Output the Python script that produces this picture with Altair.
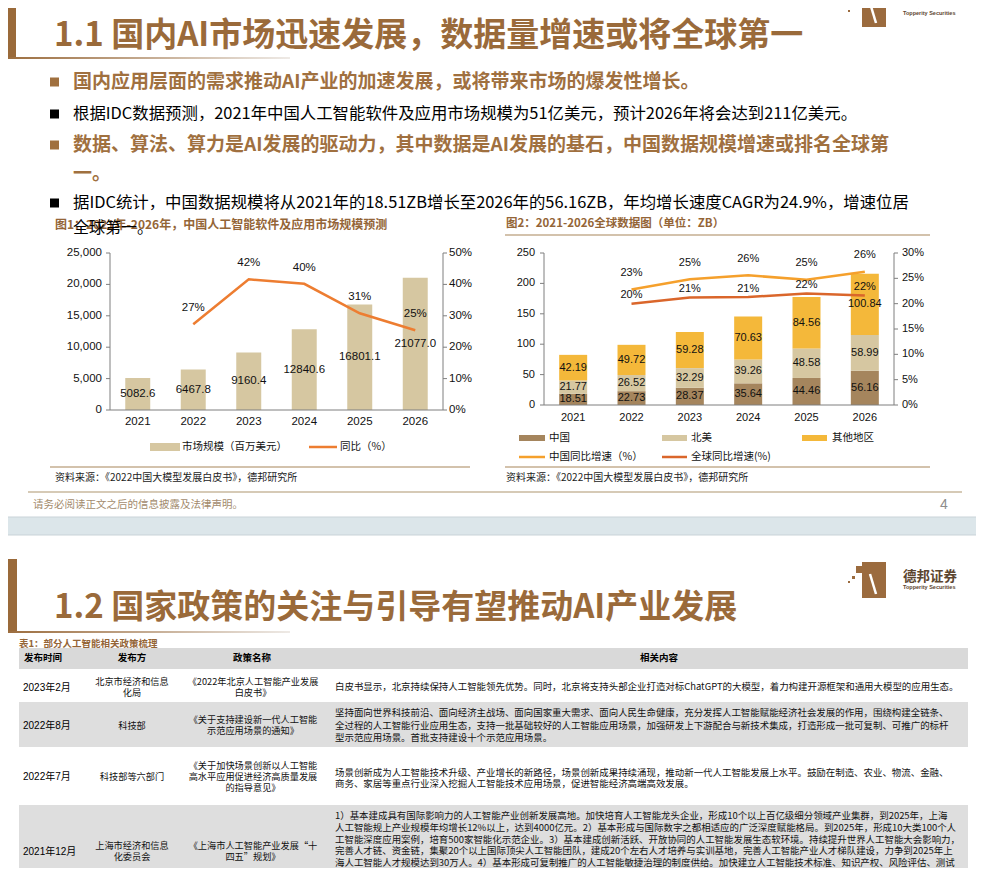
import altair as alt
import pandas as pd

# ---------------- data ----------------
years = ["2021", "2022", "2023", "2024", "2025", "2026"]
market = [5082.6, 6467.8, 9160.4, 12840.6, 16801.1, 21077.0]
yoy_years = ["2022", "2023", "2024", "2025", "2026"]
market_yoy = [27.3, 41.6, 40.2, 30.8, 25.4]

regions = ["中国", "北美", "其他地区"]
china = [18.51, 22.73, 28.37, 35.64, 44.46, 56.16]
north_america = [21.77, 26.52, 32.29, 39.26, 48.58, 58.99]
others = [42.19, 49.72, 59.28, 70.63, 84.56, 100.84]
china_yoy = [22.8, 24.8, 25.6, 24.7, 26.3]
global_yoy = [20.0, 21.2, 21.3, 22.0, 21.6]

left1_ticks = [0, 5000, 10000, 15000, 20000, 25000]
right1_ticks = [0, 10, 20, 30, 40, 50]
left2_ticks = [0, 50, 100, 150, 200, 250]
right2_ticks = [0, 5, 10, 15, 20, 25, 30]

title1 = "1.1 国内AI市场迅速发展，数据量增速或将全球第一"
bullets1 = [
    "国内应用层面的需求推动AI产业的加速发展，或将带来市场的爆发性增长。",
    "根据IDC数据预测，2021年中国人工智能软件及应用市场规模为51亿美元，预计2026年将会达到211亿美元。",
    "数据、算法、算力是AI发展的驱动力，其中数据是AI发展的基石，中国数据规模增速或排名全球第",
    "据IDC统计，中国数据规模将从2021年的18.51ZB增长至2026年的56.16ZB，年均增长速度CAGR为24.9%，增速位居",
]
wraps1 = ["一。", "全球第一。"]
fig1_title = "图1：2021年-2026年，中国人工智能软件及应用市场规模预测"
fig2_title = "图2：2021-2026全球数据图（单位：ZB）"
source_text = "资料来源：《2022中国大模型发展白皮书》，德邦研究所"
legend1 = ["市场规模（百万美元）", "同比（%）"]
legend2 = ["中国", "北美", "其他地区", "中国同比增速（%）", "全球同比增速(%)"]
footer_text = "请务必阅读正文之后的信息披露及法律声明。"
page_no = "4"

title2 = "1.2 国家政策的关注与引导有望推动AI产业发展"
table_title = "表1：部分人工智能相关政策梳理"
table_header = ["发布时间", "发布方", "政策名称", "相关内容"]
dates = ["2023年2月", "2022年8月", "2022年7月", "2021年12月"]
issuers = [["北京市经济和信息", "化局"], ["科技部"], ["科技部等六部门"], ["上海市经济和信息", "化委员会"]]
policies = [
    ["《2022年北京人工智能产业发展", "白皮书》"],
    ["《关于支持建设新一代人工智能", "示范应用场景的通知》"],
    ["《关于加快场景创新以人工智能", "高水平应用促进经济高质量发展", "的指导意见》"],
    ["《上海市人工智能产业发展“十", "四五”规划》"],
]
contents = [
    ["白皮书显示，北京持续保持人工智能领先优势。同时，北京将支持头部企业打造对标ChatGPT的大模型，着力构建开源框架和通用大模型的应用生态。"],
    ["坚持面向世界科技前沿、面向经济主战场、面向国家重大需求、面向人民生命健康，充分发挥人工智能赋能经济社会发展的作用，围绕构建全链条、",
     "全过程的人工智能行业应用生态，支持一批基础较好的人工智能应用场景，加强研发上下游配合与新技术集成，打造形成一批可复制、可推广的标杆",
     "型示范应用场景。首批支持建设十个示范应用场景。"],
    ["场景创新成为人工智能技术升级、产业增长的新路径，场景创新成果持续涌现，推动新一代人工智能发展上水平。鼓励在制造、农业、物流、金融、",
     "商务、家居等重点行业深入挖掘人工智能技术应用场景，促进智能经济高端高效发展。"],
    ["1）基本建成具有国际影响力的人工智能产业创新发展高地。加快培育人工智能龙头企业，形成10个以上百亿级细分领域产业集群，到2025年，上海",
     "人工智能规上产业规模年均增长12%以上，达到4000亿元。2）基本形成与国际数字之都相适应的广泛深度赋能格局。到2025年，形成10大类100个人",
     "工智能深度应用案例，培育500家智能化示范企业。3）基本建成创新活跃、开放协同的人工智能发展生态软环境。持续提升世界人工智能大会影响力，",
     "完善人才链、资金链，集聚20个以上国际顶尖人工智能团队，建成20个左右人才培养与实训基地，完善人工智能产业人才梯队建设，力争到2025年上",
     "海人工智能人才规模达到30万人。4）基本形成可复制推广的人工智能敏捷治理的制度供给。加快建立人工智能技术标准、知识产权、风险评估、测试",
     "认证、安全监管体系，参与10个国家或国际标准编制，年均申请发明专利1000件，探索建立人工智能赋能产业发展和城市管理指标体系，打造上海人"],
]

# ---------------- style ----------------
CJK = "Noto Sans CJK SC"
NUM = "Liberation Sans, Noto Sans CJK SC"
BROWN = "#9A6A3A"
TITLE_BROWN = "#946537"
TAN = "#D6C7A1"
CN_BROWN = "#A5855D"
GOLD = "#F4B83A"
ORANGE = "#ED7D31"
CN_LINE = "#F5A02C"
GL_LINE = "#DA662B"
AX = "#7F7F7F"

ONE = pd.DataFrame({"k": [0]})


def X(v):
    return v - 8


def Y(v):
    return v - 8


def T(s, x, y, size, color="#000000", weight="normal", align="left", font=CJK):
    return alt.Chart(ONE).mark_text(
        align=align, baseline="middle", fontSize=size, fontWeight=weight, color=color, font=font
    ).encode(x=alt.value(X(x)), y=alt.value(Y(y)), text=alt.value(s))


def R(x1, y1, x2, y2, color):
    return alt.Chart(ONE).mark_rect(color=color).encode(
        x=alt.value(X(x1)), x2=alt.value(X(x2)), y=alt.value(Y(y1)), y2=alt.value(Y(y2))
    )


def L(x1, y1, x2, y2, color, w=1.0):
    return alt.Chart(ONE).mark_rule(color=color, strokeWidth=w).encode(
        x=alt.value(X(x1)), x2=alt.value(X(x2)), y=alt.value(Y(y1)), y2=alt.value(Y(y2))
    )


def GRAD(x1, y1, x2, y2):
    g = alt.Gradient(
        gradient="linear",
        stops=[alt.GradientStop(color="#9A6A3A", offset=0), alt.GradientStop(color="#EEEAE6", offset=1)],
        x1=0, x2=1, y1=0, y2=0,
    )
    return alt.Chart(ONE).mark_rect(color=g).encode(
        x=alt.value(X(x1)), x2=alt.value(X(x2)), y=alt.value(Y(y1)), y2=alt.value(Y(y2))
    )


def logo(y0, ty, sy):
    return [
        R(862, y0, 886, y0 + 36, "#9B6B3E"),
        R(856, y0 + 4, 862, y0 + 11, "#9B6B3E"),
        L(870, y0 + 12, 876, y0 + 32, "#FFFFFF", 2.5),
        R(852, y0 + 14, 855, y0 + 17, "#9B6B3E"),
        R(848, y0 + 19, 850, y0 + 21, "#9B6B3E"),
        T("德邦证券", 903, ty, 13.5, "#5C4630", "bold"),
        T("Topperity Securities", 903, sy, 5.5, "#5C4630", "bold", font=NUM),
    ]


layers = []

# ---------------- page / slide background ----------------
layers.append(R(0, 517, 990, 535, "#DCE6EA"))
layers.append(L(0, 517, 990, 517, "#C9D3D8", 1))
layers.append(L(0, 535, 990, 535, "#C9D3D8", 1))

# ---------------- slide 1 header ----------------
layers.append(R(0, 0, 16, 57, BROWN))
layers.append(GRAD(0, 57, 290, 59))
layers.append(T(title1, 54, 36, 33, BROWN, "bold"))
layers += logo(-9, 2, 13)

bullet_y = [82, 114, 145, 203]
bullet_bold = [True, False, True, False]
for s, yy, b in zip(bullets1, bullet_y, bullet_bold):
    col = "#A0703F" if b else "#000000"
    layers.append(R(50, yy - 4.5, 59, yy + 4.5, col))
    layers.append(T(s, 73, yy, 19 if b else 16.4, col, "bold" if b else "normal"))
layers.append(T(wraps1[0], 73, 174, 19, "#A0703F", "bold"))

# ---------------- chart 1 ----------------
s1x = alt.Scale(domain=years, range=[X(110), X(443)], paddingInner=0.55, paddingOuter=0.275)
s1y = alt.Scale(domain=[0, 25000], range=[Y(410), Y(253)], nice=False)
s1r = alt.Scale(domain=[0, 50], range=[Y(410), Y(253)], nice=False)

df1 = pd.DataFrame({"year": years, "market": market})
df1l = pd.DataFrame({"year": yoy_years, "yoy": market_yoy})
x1 = alt.X("year:N", scale=s1x, axis=None)

layers.append(T(fig1_title, 55, 225, 12, TITLE_BROWN, "bold"))
layers.append(T(wraps1[1], 73, 228, 16, "#000000"))

layers.append(alt.Chart(df1).mark_bar(color=TAN).encode(x=x1, y=alt.Y("market:Q", scale=s1y, axis=None)))
layers.append(
    alt.Chart(df1).transform_calculate(mid="datum.market / 2")
    .mark_text(fontSize=11.5, font=NUM, color="#111111", baseline="middle")
    .encode(x=x1, y=alt.Y("mid:Q", scale=s1y, axis=None), text=alt.Text("market:Q", format=".1f"))
)
layers.append(
    alt.Chart(df1l).mark_line(color=ORANGE, strokeWidth=2.5)
    .encode(x=x1, y=alt.Y("yoy:Q", scale=s1r, axis=None))
)
layers.append(
    alt.Chart(df1l).transform_calculate(lab="format(datum.yoy, '.0f') + '%'")
    .mark_text(fontSize=11.5, font=NUM, color="#111111", dy=-16, baseline="middle")
    .encode(x=x1, y=alt.Y("yoy:Q", scale=s1r, axis=None), text="lab:N")
)
# axes chart 1
t1l = pd.DataFrame({"v": left1_ticks})
t1r = pd.DataFrame({"v": right1_ticks})
layers.append(L(110, 253, 110, 410, AX))
layers.append(L(443, 253, 443, 410, AX))
layers.append(L(110, 410, 443, 410, AX))
layers.append(alt.Chart(t1l).mark_rule(color=AX).encode(
    x=alt.value(X(106)), x2=alt.value(X(110)), y=alt.Y("v:Q", scale=s1y, axis=None)))
layers.append(alt.Chart(t1r).mark_rule(color=AX).encode(
    x=alt.value(X(443)), x2=alt.value(X(447)), y=alt.Y("v:Q", scale=s1r, axis=None)))
layers.append(alt.Chart(t1l).mark_text(align="right", baseline="middle", fontSize=11.5, font=NUM, color="#111111").encode(
    x=alt.value(X(102)), y=alt.Y("v:Q", scale=s1y, axis=None), text=alt.Text("v:Q", format=",d")))
layers.append(alt.Chart(t1r).transform_calculate(lab="datum.v + '%'").mark_text(
    align="left", baseline="middle", fontSize=11.5, font=NUM, color="#111111").encode(
    x=alt.value(X(449)), y=alt.Y("v:Q", scale=s1r, axis=None), text="lab:N"))
layers.append(alt.Chart(df1).mark_text(baseline="middle", fontSize=11.5, font=NUM, color="#111111").encode(
    x=x1, y=alt.value(Y(422)), text="year:N"))
# legend chart 1
layers.append(R(150, 443, 180, 451, TAN))
layers.append(T(legend1[0], 182, 447, 10.5, "#111111"))
layers.append(L(309, 447, 337, 447, ORANGE, 2.5))
layers.append(T(legend1[1], 340, 447, 10.5, "#111111"))
layers.append(L(50, 467, 470, 467, "#C4AE90", 1.5))
layers.append(T(source_text, 55, 478, 10, "#222222"))

# ---------------- chart 2 ----------------
s2x = alt.Scale(domain=years, range=[X(544), X(894)], paddingInner=0.52, paddingOuter=0.26)
s2y = alt.Scale(domain=[0, 250], range=[Y(405), Y(253)], nice=False)
s2r = alt.Scale(domain=[0, 30], range=[Y(405), Y(253)], nice=False)
x2 = alt.X("year:N", scale=s2x, axis=None)

rows = []
for i, y_ in enumerate(years):
    for r, (name, vals) in enumerate(zip(regions, [china, north_america, others])):
        rows.append({"year": y_, "region": name, "v": vals[i], "rank": r})
df2 = pd.DataFrame(rows)
df2l = pd.DataFrame({
    "year": yoy_years * 2,
    "series": ["中国同比增速"] * 5 + ["全球同比增速"] * 5,
    "yoy": china_yoy + global_yoy,
})

layers.append(T(fig2_title, 506, 224, 11.5, TITLE_BROWN, "bold"))
layers.append(L(505, 235, 930, 235, "#C4AE90", 1.5))

layers.append(
    alt.Chart(df2).mark_bar().encode(
        x=x2,
        y=alt.Y("v:Q", stack="zero", scale=s2y, axis=None),
        color=alt.Color("region:N", scale=alt.Scale(domain=regions, range=[CN_BROWN, TAN, GOLD]), legend=None),
        order=alt.Order("rank:Q", sort="ascending"),
    )
)
layers.append(
    alt.Chart(df2)
    .transform_stack(stack="v", groupby=["year"], as_=["v0", "v1"], sort=[alt.SortField("rank", order="ascending")])
    .transform_calculate(mid="(datum.v0 + datum.v1) / 2")
    .mark_text(fontSize=11, font=NUM, color="#111111", baseline="middle")
    .encode(x=x2, y=alt.Y("mid:Q", scale=s2y, axis=None), text=alt.Text("v:Q", format=".2f"))
)
layers.append(
    alt.Chart(df2l).mark_line(strokeWidth=2.5).encode(
        x=x2, y=alt.Y("yoy:Q", scale=s2r, axis=None),
        color=alt.Color("series:N", scale=alt.Scale(domain=["中国同比增速", "全球同比增速"], range=[CN_LINE, GL_LINE]), legend=None),
    )
)
layers.append(
    alt.Chart(df2l).transform_filter("datum.series == '中国同比增速'")
    .transform_calculate(lab="format(datum.yoy, '.0f') + '%'")
    .mark_text(fontSize=11, font=NUM, color="#111111", dy=-16.5, baseline="middle")
    .encode(x=x2, y=alt.Y("yoy:Q", scale=s2r, axis=None), text="lab:N")
)
layers.append(
    alt.Chart(df2l).transform_filter("datum.series == '全球同比增速'")
    .transform_calculate(lab="format(datum.yoy, '.0f') + '%'")
    .mark_text(fontSize=11, font=NUM, color="#111111", dy=-8.5, baseline="middle")
    .encode(x=x2, y=alt.Y("yoy:Q", scale=s2r, axis=None), text="lab:N")
)
# axes chart 2
t2l = pd.DataFrame({"v": left2_ticks})
t2r = pd.DataFrame({"v": right2_ticks})
layers.append(L(544, 253, 544, 405, AX))
layers.append(L(894, 253, 894, 405, AX))
layers.append(L(544, 405, 894, 405, AX))
layers.append(alt.Chart(t2l).mark_rule(color=AX).encode(
    x=alt.value(X(540)), x2=alt.value(X(544)), y=alt.Y("v:Q", scale=s2y, axis=None)))
layers.append(alt.Chart(t2r).mark_rule(color=AX).encode(
    x=alt.value(X(894)), x2=alt.value(X(898)), y=alt.Y("v:Q", scale=s2r, axis=None)))
layers.append(alt.Chart(t2l).mark_text(align="right", baseline="middle", fontSize=11, font=NUM, color="#111111").encode(
    x=alt.value(X(535)), y=alt.Y("v:Q", scale=s2y, axis=None), text=alt.Text("v:Q", format="d")))
layers.append(alt.Chart(t2r).transform_calculate(lab="datum.v + '%'").mark_text(
    align="left", baseline="middle", fontSize=11, font=NUM, color="#111111").encode(
    x=alt.value(X(902)), y=alt.Y("v:Q", scale=s2r, axis=None), text="lab:N"))
layers.append(alt.Chart(pd.DataFrame({"year": years})).mark_text(baseline="middle", fontSize=11, font=NUM, color="#111111").encode(
    x=x2, y=alt.value(Y(418)), text="year:N"))
# legend chart 2
layers.append(R(519, 435, 545, 441, CN_BROWN))
layers.append(T(legend2[0], 549, 438, 10.5, "#111111"))
layers.append(R(662, 435, 687, 441, TAN))
layers.append(T(legend2[1], 691, 438, 10.5, "#111111"))
layers.append(R(802, 435, 827, 441, GOLD))
layers.append(T(legend2[2], 832, 438, 10.5, "#111111"))
layers.append(L(519, 457, 545, 457, CN_LINE, 2.5))
layers.append(T(legend2[3], 549, 457, 10.5, "#111111"))
layers.append(L(662, 457, 687, 457, GL_LINE, 2.5))
layers.append(T(legend2[4], 691, 457, 10.5, "#111111"))
layers.append(L(505, 467, 930, 467, "#C4AE90", 1.5))
layers.append(T(source_text, 506, 478, 10, "#222222"))

# ---------------- slide 1 footer ----------------
layers.append(L(28, 492, 962, 492, "#C9B89E", 1.5))
layers.append(T(footer_text, 33, 505, 10.5, "#A38B6D"))
layers.append(T(page_no, 940, 505, 14, "#8C8C8C", font=NUM))

# ---------------- slide 2 ----------------
layers.append(R(0, 559, 17, 632, BROWN))
layers.append(GRAD(0, 631, 290, 633))
layers.append(T(title2, 54, 608, 33, BROWN, "bold"))
layers += logo(562, 577, 587)

layers.append(T(table_title, 19, 644, 9.5, TITLE_BROWN, "bold"))
layers.append(R(19, 648, 968, 669, "#D9D9D9"))
layers.append(R(19, 702, 968, 747, "#DEDEDE"))
layers.append(R(19, 805, 968, 890, "#DEDEDE"))
head_x = [43, 132, 252, 659]
for h, hx in zip(table_header, head_x):
    layers.append(T(h, hx, 658, 9.5, "#000000", "bold", "center"))

row_center = [687.5, 725.5, 777, 851.5]
content_first = [687, 713, 772.5, 816]
content_lh = [12, 12.5, 11, 11.8]
cell_lh = 11

cell_rows = []
for i in range(4):
    cell_rows.append({"t": dates[i], "px": X(23), "py": Y(row_center[i]), "kind": "date"})
    for k, s in enumerate(issuers[i]):
        cell_rows.append({"t": s, "px": X(132), "py": Y(row_center[i] + (k - (len(issuers[i]) - 1) / 2) * cell_lh), "kind": "mid"})
    for k, s in enumerate(policies[i]):
        cell_rows.append({"t": s, "px": X(253), "py": Y(row_center[i] + (k - (len(policies[i]) - 1) / 2) * cell_lh), "kind": "mid"})
    for k, s in enumerate(contents[i]):
        cell_rows.append({"t": s, "px": X(335), "py": Y(content_first[i] + k * content_lh[i]), "kind": "content"})
cells = pd.DataFrame(cell_rows)

layers.append(
    alt.Chart(cells).transform_filter("datum.kind == 'date'")
    .mark_text(align="left", baseline="middle", fontSize=10, font=NUM, color="#000000")
    .encode(x=alt.X("px:Q", scale=None), y=alt.Y("py:Q", scale=None), text="t:N")
)
layers.append(
    alt.Chart(cells).transform_filter("datum.kind == 'mid'")
    .mark_text(align="center", baseline="middle", fontSize=9.2, font=CJK, color="#111111")
    .encode(x=alt.X("px:Q", scale=None), y=alt.Y("py:Q", scale=None), text="t:N")
)
layers.append(
    alt.Chart(cells).transform_filter("datum.kind == 'content'")
    .mark_text(align="left", baseline="middle", fontSize=9.45, font=CJK, color="#111111")
    .encode(x=alt.X("px:Q", scale=None), y=alt.Y("py:Q", scale=None), text="t:N")
)

chart = (
    alt.layer(*layers)
    .resolve_scale(x="independent", y="independent", color="independent")
    .properties(width=968, height=860, padding=0, autosize=alt.AutoSizeParams(type="none"), background="#FFFFFF")
    .configure_view(strokeWidth=0)
)

chart.save("out.html", embed_options={"renderer": "svg", "actions": False})
